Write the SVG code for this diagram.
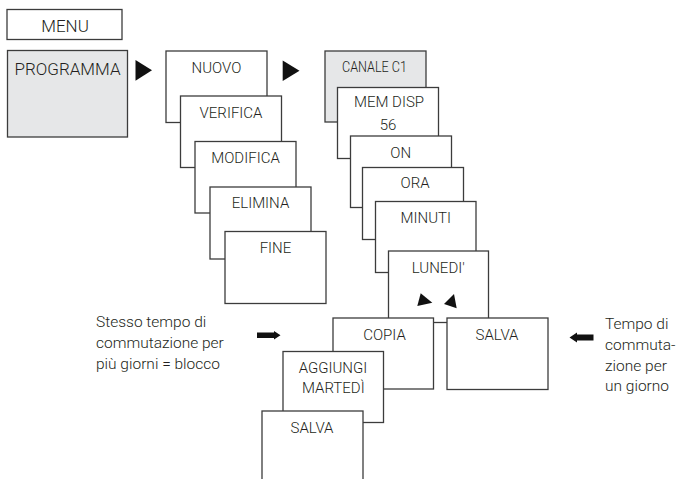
<svg xmlns="http://www.w3.org/2000/svg" width="677" height="479" viewBox="0 0 677 479">
<style>
.b{fill:#fff;stroke:#3c3c3c;stroke-width:1.3}
.g{fill:#e6e7e8;stroke:#3c3c3c;stroke-width:1.3}
.t{font-family:Roboto,"Liberation Sans",sans-serif;font-weight:300;font-size:15px;fill:#231f20;text-anchor:middle}
.s{font-family:Roboto,"Liberation Sans",sans-serif;font-weight:300;font-size:15.5px;fill:#231f20}
.a{fill:#111;stroke:none}
</style>
<rect width="677" height="479" fill="#fff"/>
<g id="menu"><rect class="b" x="7" y="9.5" width="115" height="30"/><text class="t" x="65" y="32.3" style="font-size:17px">MENU</text></g>
<g id="programma"><rect class="g" x="7.5" y="50.5" width="120" height="86.5"/><text class="t" x="67.5" y="75" style="font-size:17px">PROGRAMMA</text></g>
<g id="nuovo"><rect class="b" x="166" y="51" width="101" height="71.5"/><text class="t" x="216.5" y="73">NUOVO</text></g>
<g id="verifica"><rect class="b" x="180.5" y="96" width="101" height="71.5"/><text class="t" x="231" y="118">VERIFICA</text></g>
<g id="modifica"><rect class="b" x="195" y="141.5" width="101" height="71.5"/><text class="t" x="245.5" y="162.7">MODIFICA</text></g>
<g id="elimina"><rect class="b" x="210" y="187" width="101" height="72"/><text class="t" x="260.5" y="208">ELIMINA</text></g>
<g id="fine"><rect class="b" x="225" y="231.5" width="101" height="72"/><text class="t" x="275.5" y="252.7">FINE</text></g>
<g id="canale"><rect class="g" x="325" y="51" width="101" height="71"/><text class="t" x="374.5" y="71.7" textLength="65" lengthAdjust="spacingAndGlyphs">CANALE C1</text></g>
<g id="memdisp"><rect class="b" x="337.5" y="87.5" width="101" height="71"/><text class="t" x="389" y="106.7">MEM DISP</text><text class="t" x="388" y="130">56</text></g>
<g id="on"><rect class="b" x="350.5" y="136" width="101" height="71.5"/><text class="t" x="400.7" y="158.3">ON</text></g>
<g id="ora"><rect class="b" x="362.5" y="167.5" width="101" height="72"/><text class="t" x="415" y="188.3">ORA</text></g>
<g id="minuti"><rect class="b" x="375.5" y="201.5" width="100.5" height="71"/><text class="t" x="425.8" y="223.3">MINUTI</text></g>
<g id="lunedi"><rect class="b" x="388.5" y="251" width="100" height="71.5"/><text class="t" x="438.3" y="273.3">LUNEDI'</text></g>
<g id="copia"><rect class="b" x="333" y="318" width="100.5" height="71"/><text class="t" x="384.5" y="340">COPIA</text></g>
<g id="salva1"><rect class="b" x="447" y="318" width="101" height="71.5"/><text class="t" x="497" y="340">SALVA</text></g>
<g id="aggiungi"><rect class="b" x="283" y="351.5" width="100.5" height="71"/><text class="t" x="333" y="373.3">AGGIUNGI</text><text class="t" x="333.3" y="393.3">MARTEDÌ</text></g>
<g id="salva2"><rect class="b" x="262" y="411" width="101" height="80"/><text class="t" x="312" y="433.3">SALVA</text></g>
<g id="note-left"><text class="s" x="96" y="327.3">Stesso tempo di</text><text class="s" x="96" y="348.3">commutazione per</text><text class="s" x="96" y="369.3">più giorni = blocco</text></g>
<g id="note-right"><text class="s" x="605" y="329.3">Tempo di</text><text class="s" x="605" y="350">commuta-</text><text class="s" x="605" y="370.7">zione per</text><text class="s" x="605" y="391.3">un giorno</text></g>
<g id="connectors">
<polygon class="a" points="135.5,60 135.5,80.7 152,70.3"/>
<polygon class="a" points="282.7,60.5 282.7,81 299.5,70.7"/>
<polygon class="a" points="420.7,293.3 417.3,306 432.3,302.7"/>
<polygon class="a" points="454,294 444,304 456.7,308.3"/>
<path class="a" d="M257,332.5 H274 V331 L280.5,335.2 L274,339.5 V338 H257 Z"/>
<path class="a" d="M569.5,337.5 L577,332.5 V334.5 H593.5 V340.5 H577 V342.5 Z"/>
</g>
</svg>
